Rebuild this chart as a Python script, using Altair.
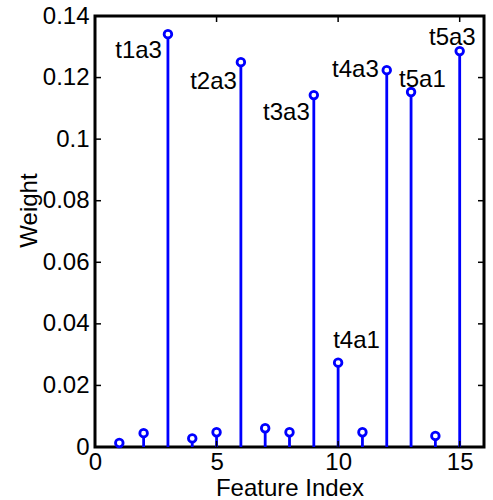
import altair as alt
import pandas as pd

# ---- data ----
feature_index = list(range(1, 16))
weights = [0.0013, 0.0045, 0.1341, 0.0028, 0.0048, 0.1250, 0.0061, 0.0048,
           0.1143, 0.0274, 0.0048, 0.1224, 0.1153, 0.0036, 0.1286]
label_index = [3, 6, 9, 10, 12, 13, 15]
label_text = ["t1a3", "t2a3", "t3a3", "t4a1", "t4a3", "t5a1", "t5a3"]
x_tick_values = [0, 5, 10, 15]
y_tick_values = [0, 0.02, 0.04, 0.06, 0.08, 0.1, 0.12, 0.14]

# ---- style ----
FONT = "Liberation Sans"
FS = 24
BLUE = "#0000ff"
W, H = 389, 431
TICK = 6
# per-label placement: (align, dx, dy) in pixels relative to the marker
label_place = {
    "t1a3": ("right", -6, 24),
    "t2a3": ("right", -4, 27),
    "t3a3": ("right", -4, 25),
    "t4a1": ("left", -5, -15),
    "t4a3": ("right", -8, 7),
    "t5a1": ("left", -12, -5),
    "t5a3": ("right", 16, -6),
}

df = pd.DataFrame({"idx": feature_index, "w": weights, "base": [0] * len(weights)})
lab_df = pd.DataFrame({
    "idx": label_index,
    "w": [weights[i - 1] for i in label_index],
    "txt": label_text,
})
xt_df = pd.DataFrame({"v": x_tick_values})
yt_df = pd.DataFrame({"v": y_tick_values})

xscale = alt.Scale(domain=[0, 16], nice=False, zero=False)
yscale = alt.Scale(domain=[0, 0.14], nice=False)

x_axis = alt.Axis(values=x_tick_values, title="Feature Index", grid=False,
                  ticks=False, tickSize=0, domain=False, labelPadding=3,
                  titleX=W / 2, titleY=48, titleBaseline="alphabetic",
                  titleAlign="center", labelFlush=False)
y_axis = alt.Axis(values=y_tick_values, title="Weight", grid=False,
                  ticks=False, tickSize=0, domain=False, labelPadding=6,
                  format="~g", titleAngle=270, titleX=-59, titleY=194,
                  titleBaseline="alphabetic", titleAlign="center",
                  labelFlush=False)

stems = alt.Chart(df).mark_rule(color=BLUE, strokeWidth=2.8).encode(
    x=alt.X("idx:Q", scale=xscale, axis=x_axis),
    y=alt.Y("w:Q", scale=yscale, axis=y_axis),
    y2="base:Q",
)

markers = alt.Chart(df).mark_point(
    shape="circle", fill="white", stroke=BLUE, strokeWidth=2.8,
    size=58, fillOpacity=1, strokeOpacity=1,
).encode(
    x=alt.X("idx:Q", scale=xscale),
    y=alt.Y("w:Q", scale=yscale),
)

layers = [stems, markers]

for t in label_text:
    align, dx, dy = label_place[t]
    layers.append(
        alt.Chart(lab_df).transform_filter(alt.datum.txt == t).mark_text(
            align=align, baseline="alphabetic", dx=dx, dy=dy,
            font=FONT, fontSize=FS, color="black",
        ).encode(
            x=alt.X("idx:Q", scale=xscale),
            y=alt.Y("w:Q", scale=yscale),
            text="txt:N",
        )
    )

# inward tick marks on all four sides
layers.append(alt.Chart(xt_df).mark_rule(color="black", strokeWidth=1.5).encode(
    x=alt.X("v:Q", scale=xscale), y=alt.value(H), y2=alt.value(H - TICK)))
layers.append(alt.Chart(xt_df).mark_rule(color="black", strokeWidth=1.5).encode(
    x=alt.X("v:Q", scale=xscale), y=alt.value(0), y2=alt.value(TICK)))
layers.append(alt.Chart(yt_df).mark_rule(color="black", strokeWidth=1.5).encode(
    y=alt.Y("v:Q", scale=yscale), x=alt.value(0), x2=alt.value(TICK)))
layers.append(alt.Chart(yt_df).mark_rule(color="black", strokeWidth=1.5).encode(
    y=alt.Y("v:Q", scale=yscale), x=alt.value(W), x2=alt.value(W - TICK)))

chart = alt.layer(*layers).properties(
    width=W, height=H,
    autosize=alt.AutoSizeParams(type="none"),
    padding={"left": 95, "top": 16, "right": 9, "bottom": 53},
    background="white",
).configure_view(
    stroke="black", strokeWidth=3,
).configure_axis(
    labelFont=FONT, labelFontSize=FS, labelColor="black",
    titleFont=FONT, titleFontSize=FS, titleColor="black",
    titleFontWeight="normal",
)

chart.save("out.html", embed_options={"renderer": "svg", "actions": False})
